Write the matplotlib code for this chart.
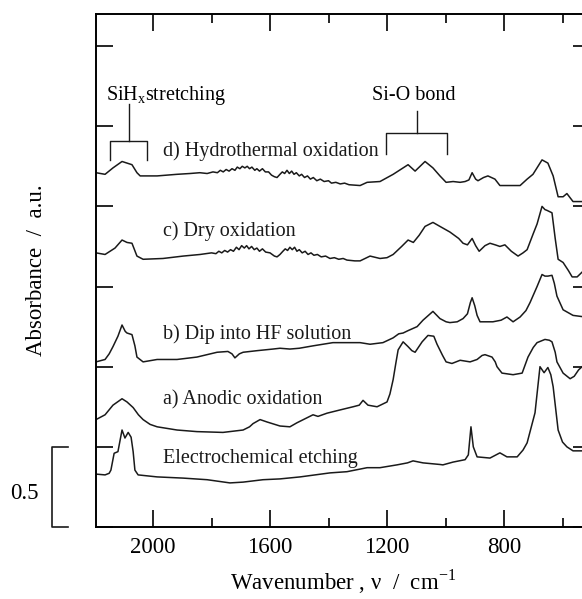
import matplotlib
matplotlib.use("Agg")
import matplotlib.pyplot as plt

plt.rcParams['font.family'] = ['Liberation Serif', 'DejaVu Serif']
plt.rcParams['mathtext.fontset'] = 'custom'
plt.rcParams['mathtext.rm'] = 'Liberation Serif'

# 1. spectra: (wavenumber cm-1, absorbance, offset included)
hydrothermal = [(2195, 2.21), (2164, 2.20), (2137, 2.24), (2106, 2.28), (2089, 2.27), (2072, 2.26),
                (2055, 2.21), (2044, 2.19), (1986, 2.19), (1918, 2.20), (1874, 2.205), (1840, 2.21),
                (1815, 2.205), (1795, 2.215), (1780, 2.21), (1770, 2.225), (1760, 2.215), (1750, 2.23),
                (1740, 2.22), (1730, 2.235), (1720, 2.225), (1712, 2.245), (1703, 2.235), (1695, 2.25),
                (1686, 2.24), (1678, 2.25), (1670, 2.235), (1662, 2.245), (1652, 2.225), (1645, 2.235),
                (1636, 2.22), (1626, 2.235), (1616, 2.215), (1605, 2.215), (1595, 2.195), (1585, 2.185),
                (1576, 2.18), (1566, 2.20), (1558, 2.215), (1550, 2.205), (1542, 2.225), (1534, 2.205),
                (1526, 2.22), (1518, 2.20), (1510, 2.21), (1500, 2.19), (1492, 2.20), (1482, 2.18),
                (1472, 2.19), (1462, 2.17), (1452, 2.18), (1440, 2.16), (1428, 2.17), (1415, 2.155),
                (1400, 2.16), (1390, 2.145), (1375, 2.15), (1360, 2.14), (1345, 2.145), (1330, 2.135),
                (1292, 2.13), (1268, 2.15), (1224, 2.155), (1179, 2.20), (1128, 2.26), (1104, 2.22),
                (1070, 2.28), (1043, 2.24), (1019, 2.19), (998, 2.15), (974, 2.155), (950, 2.15),
                (933, 2.155), (920, 2.165), (909, 2.21), (897, 2.17), (889, 2.16), (870, 2.18),
                (855, 2.19), (831, 2.17), (814, 2.13), (745, 2.13), (721, 2.17), (701, 2.20),
                (670, 2.29), (650, 2.27), (632, 2.19), (615, 2.06), (598, 2.06), (585, 2.08),
                (564, 2.03), (533, 2.03)]

dry = [(2195, 1.71), (2164, 1.70), (2130, 1.74), (2106, 1.79), (2089, 1.775), (2072, 1.77),
       (2055, 1.69), (2034, 1.67), (1966, 1.675), (1897, 1.69), (1839, 1.70), (1800, 1.71),
       (1785, 1.705), (1775, 1.72), (1765, 1.71), (1755, 1.725), (1745, 1.715), (1735, 1.73),
       (1725, 1.72), (1715, 1.745), (1706, 1.73), (1697, 1.755), (1688, 1.74), (1680, 1.755),
       (1672, 1.735), (1663, 1.75), (1654, 1.73), (1645, 1.74), (1636, 1.72), (1626, 1.735),
       (1615, 1.715), (1600, 1.71), (1585, 1.69), (1576, 1.685), (1566, 1.70), (1556, 1.72),
       (1548, 1.735), (1540, 1.725), (1532, 1.745), (1524, 1.73), (1516, 1.745), (1508, 1.72),
       (1500, 1.73), (1490, 1.71), (1480, 1.72), (1470, 1.70), (1460, 1.71), (1450, 1.695),
       (1438, 1.70), (1425, 1.685), (1410, 1.69), (1395, 1.675), (1380, 1.68), (1365, 1.67),
       (1350, 1.675), (1337, 1.665), (1310, 1.66), (1292, 1.66), (1258, 1.69), (1224, 1.675),
       (1200, 1.68), (1179, 1.70), (1150, 1.75), (1128, 1.79), (1110, 1.775), (1090, 1.82),
       (1070, 1.875), (1043, 1.90), (1019, 1.875), (985, 1.84), (955, 1.80), (940, 1.77),
       (925, 1.76), (909, 1.80), (897, 1.755), (885, 1.72), (865, 1.755), (848, 1.77),
       (830, 1.76), (814, 1.75), (797, 1.76), (775, 1.72), (752, 1.69), (735, 1.71),
       (721, 1.73), (700, 1.83), (687, 1.89), (670, 2.00), (660, 1.98), (653, 1.975),
       (636, 1.96), (625, 1.80), (615, 1.67), (598, 1.65), (580, 1.60), (567, 1.56),
       (550, 1.56), (533, 1.59)]

hf_dip = [(2195, 1.03), (2164, 1.045), (2150, 1.08), (2137, 1.125), (2120, 1.19), (2106, 1.26),
          (2095, 1.22), (2089, 1.21), (2072, 1.20), (2062, 1.13), (2055, 1.06), (2034, 1.03),
          (1986, 1.045), (1918, 1.045), (1850, 1.06), (1781, 1.09), (1744, 1.095), (1730, 1.08),
          (1720, 1.055), (1705, 1.08), (1692, 1.09), (1644, 1.10), (1590, 1.11), (1566, 1.115),
          (1532, 1.11), (1500, 1.115), (1453, 1.13), (1385, 1.15), (1337, 1.15), (1292, 1.15),
          (1258, 1.14), (1214, 1.15), (1179, 1.18), (1160, 1.205), (1145, 1.21), (1128, 1.225),
          (1097, 1.25), (1077, 1.29), (1043, 1.345), (1019, 1.30), (998, 1.28), (985, 1.275),
          (960, 1.28), (940, 1.30), (925, 1.33), (915, 1.40), (909, 1.43), (900, 1.38),
          (892, 1.32), (882, 1.28), (838, 1.28), (810, 1.29), (790, 1.31), (769, 1.28),
          (745, 1.31), (725, 1.35), (711, 1.40), (687, 1.50), (670, 1.575), (660, 1.565),
          (650, 1.565), (636, 1.57), (628, 1.52), (619, 1.44), (598, 1.355), (564, 1.32),
          (533, 1.3125)]

anodic = [(2195, 0.67), (2164, 0.70), (2137, 0.76), (2106, 0.80), (2089, 0.78), (2068, 0.745),
          (2050, 0.70), (2034, 0.67), (2010, 0.64), (1986, 0.625), (1918, 0.605), (1850, 0.595),
          (1761, 0.59), (1692, 0.605), (1670, 0.625), (1658, 0.645), (1634, 0.67), (1610, 0.655),
          (1566, 0.63), (1532, 0.625), (1508, 0.65), (1453, 0.70), (1436, 0.69), (1405, 0.71),
          (1361, 0.73), (1316, 0.75), (1295, 0.76), (1282, 0.79), (1265, 0.76), (1234, 0.75),
          (1200, 0.78), (1190, 0.83), (1179, 0.92), (1170, 1.02), (1162, 1.105), (1145, 1.155),
          (1128, 1.125), (1115, 1.10), (1104, 1.09), (1080, 1.155), (1060, 1.195), (1040, 1.19),
          (1029, 1.14), (1010, 1.07), (998, 1.03), (978, 1.02), (950, 1.04), (916, 1.03),
          (892, 1.045), (875, 1.07), (865, 1.075), (841, 1.06), (830, 1.03), (824, 1.00),
          (807, 0.96), (769, 0.95), (738, 0.96), (718, 1.06), (700, 1.12), (687, 1.15),
          (660, 1.17), (645, 1.165), (636, 1.155), (625, 1.09), (619, 1.03), (598, 0.96),
          (574, 0.925), (560, 0.94), (545, 0.98), (533, 1.0)]

etching = [(2195, 0.33), (2164, 0.325), (2150, 0.335), (2144, 0.355), (2133, 0.46), (2120, 0.47),
           (2106, 0.605), (2096, 0.555), (2085, 0.59), (2075, 0.56), (2068, 0.47), (2062, 0.355),
           (2051, 0.325), (1986, 0.3125), (1897, 0.305), (1815, 0.295), (1737, 0.275), (1692, 0.28),
           (1624, 0.295), (1566, 0.30), (1497, 0.3125), (1395, 0.3375), (1337, 0.345), (1268, 0.37),
           (1224, 0.37), (1166, 0.3875), (1130, 0.40), (1111, 0.4125), (1077, 0.40), (1019, 0.39),
           (1009, 0.3875), (974, 0.405), (933, 0.42), (922, 0.45), (913, 0.625), (905, 0.50),
           (892, 0.4375), (848, 0.43), (814, 0.4625), (790, 0.4375), (755, 0.4375), (735, 0.48),
           (721, 0.525), (694, 0.7125), (677, 1.0), (663, 0.9625), (650, 0.995), (640, 0.95),
           (632, 0.875), (615, 0.605), (600, 0.53), (585, 0.50), (564, 0.475), (533, 0.475)]

spectra = [hydrothermal, dry, hf_dip, anodic, etching]
labels = ['d) Hydrothermal oxidation', 'c) Dry oxidation', 'b) Dip into HF solution',
          'a) Anodic oxidation', 'Electrochemical etching']
label_y = [2.345, 1.845, 1.205, 0.795, 0.425]

x_major = [2000, 1600, 1200, 800]
x_minor = [1800, 1400, 1000, 600]
y_ticks = [0, 0.5, 1.0, 1.5, 2.0, 2.5, 3.0]


# 2. figure + axes (right side of the frame is cut off in the original scan)
fig = plt.figure(figsize=(5.82, 5.99), dpi=100)
ax = fig.add_axes([96 / 582, 72 / 599, 494 / 582, 513 / 599])
ax.set_xlim(2195, 506)
ax.set_ylim(0, 3.2)

for spec in spectra:
    wn, ab = zip(*spec)
    ax.plot(wn, ab, color='#1a1a1a', lw=1.1)

for lab, y in zip(labels, label_y):
    ax.text(1965, y, lab, fontsize=14.5, va='center', ha='left', color='#1a1a1a')


# 3. band brackets
def bracket(x_left, x_right, y_top, y_leg, y_stem):
    xm = (x_left + x_right) / 2
    ax.plot([x_left, x_left, x_right, x_right], [y_leg, y_top, y_top, y_leg], color='#1a1a1a', lw=1.0)
    ax.plot([xm, xm], [y_top, y_stem], color='#1a1a1a', lw=1.0)

bracket(2147, 2020, 2.41, 2.29, 2.64)
bracket(1203, 995, 2.455, 2.325, 2.595)
ax.text(2160, 2.69, r'SiH$_{\mathregular{x}}$stretching', fontsize=14.5, va='center', ha='left')
ax.text(1108, 2.69, 'Si-O bond', fontsize=14.5, va='center', ha='center')

# 4. ticks and frame
ax.set_xticks(x_major)
ax.set_xticklabels([str(v) for v in x_major], fontsize=16.5)
ax.set_xticks(x_minor, minor=True)
ax.set_yticks(y_ticks)
ax.set_yticklabels([])
ax.tick_params(which='major', direction='in', top=True, right=True, length=12.5, width=1.2, pad=7)
ax.tick_params(which='minor', direction='in', top=True, right=True, length=6.5, width=1.2)
for s in ax.spines.values():
    s.set_linewidth(1.4)

ax.set_xlabel(r'Wavenumber , ν  /  cm$^{\mathregular{-1}}$', fontsize=16.5, labelpad=7)
ax.set_ylabel('Absorbance  /  a.u.', fontsize=16.5, labelpad=28)

# 5. 0.5 absorbance scale bar left of the frame
scale = 0.5
ax.plot([2291, 2345, 2345, 2291], [scale, scale, 0, 0], color='#1a1a1a', lw=1.2, clip_on=False)
ax.text(2440, scale / 2 - 0.04, '0.5', fontsize=16.5, ha='center', va='center')

fig.savefig('out.png', dpi=100)
